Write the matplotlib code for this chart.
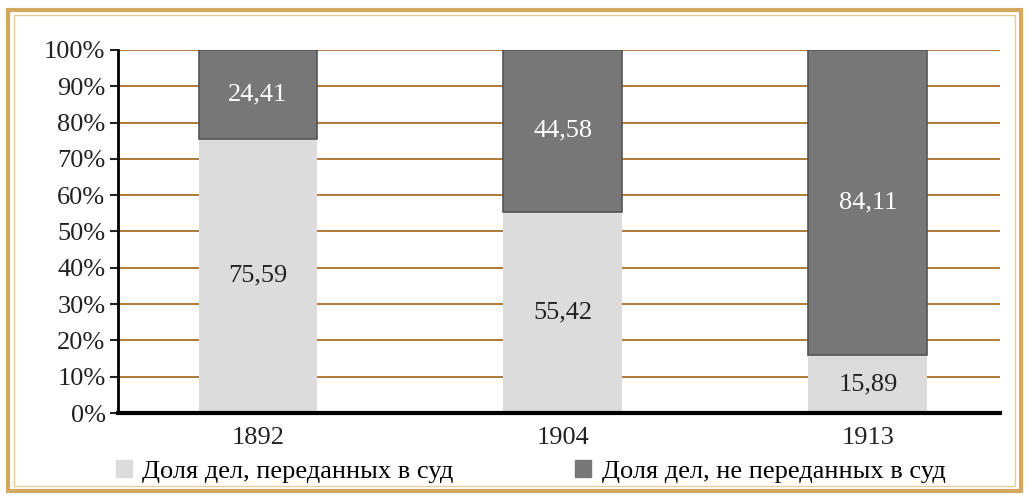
import numpy as np
import matplotlib.pyplot as plt
from matplotlib.patches import Rectangle

# Data
years = ['1892', '1904', '1913']
to_court = [75.59, 55.42, 15.89]
not_to_court = [24.41, 44.58, 84.11]
labels = ['Доля дел, переданных в суд', 'Доля дел, не переданных в суд']

plt.rcParams['font.family'] = ['Liberation Serif', 'DejaVu Serif']

fig = plt.figure(figsize=(10.29, 5.03), dpi=100)
ax = fig.add_axes([118 / 1029, 90 / 503, 882 / 1029, 363 / 503])

x = np.arange(len(years))
light = '#dcdcdc'
dark = '#777777'
grid_col = '#a8722c'

ax.bar(x, to_court, width=0.39, color=light, zorder=2)
ax.bar(x, not_to_court, width=0.39, bottom=to_court, color=dark,
       edgecolor='#555555', linewidth=1.2, zorder=2)

for i in range(len(years)):
    ax.text(x[i], to_court[i] / 2, '{:.2f}'.format(to_court[i]).replace('.', ','),
            ha='center', va='center', fontsize=19, color='#222222', zorder=3)
    ax.text(x[i], to_court[i] + not_to_court[i] / 2,
            '{:.2f}'.format(not_to_court[i]).replace('.', ','),
            ha='center', va='center', fontsize=19, color='white', zorder=3)

ax.set_xlim(-0.459, 2.433)
ax.set_ylim(0, 100)
ax.set_yticks(np.arange(0, 101, 10))
ax.set_yticklabels(['{}%'.format(v) for v in range(0, 101, 10)])
ax.set_xticks(x)
ax.set_xticklabels(years)
ax.yaxis.grid(True, color=grid_col, linewidth=1.3, zorder=1)
ax.set_axisbelow(True)
ax.tick_params(axis='y', labelsize=19, length=6, width=1.5, pad=3, colors='#222222')
ax.tick_params(axis='x', labelsize=19, length=0, pad=10, colors='#222222')
for s in ['top', 'right']:
    ax.spines[s].set_visible(False)
ax.spines['left'].set_linewidth(2)
ax.spines['bottom'].set_linewidth(3)

handles = [Rectangle((0, 0), 1, 1, color=light), Rectangle((0, 0), 1, 1, color=dark)]
fig.legend(handles, labels, loc='lower left', bbox_to_anchor=(116 / 1029, 20 / 503), ncol=2,
           frameon=False, fontsize=19, handlelength=0.6, handleheight=0.6,
           handletextpad=0.4, columnspacing=4.6, borderpad=0, borderaxespad=0)

# gold double frame around the chart
fig.patches.append(Rectangle((8 / 1029, 12 / 503), 1013 / 1029, 481 / 503,
                             transform=fig.transFigure, fill=False,
                             edgecolor='#d6a75e', linewidth=3))
fig.patches.append(Rectangle((14 / 1029, 17 / 503), 1001 / 1029, 471 / 503,
                             transform=fig.transFigure, fill=False,
                             edgecolor='#e8cc9a', linewidth=1))

plt.savefig('out.png')
